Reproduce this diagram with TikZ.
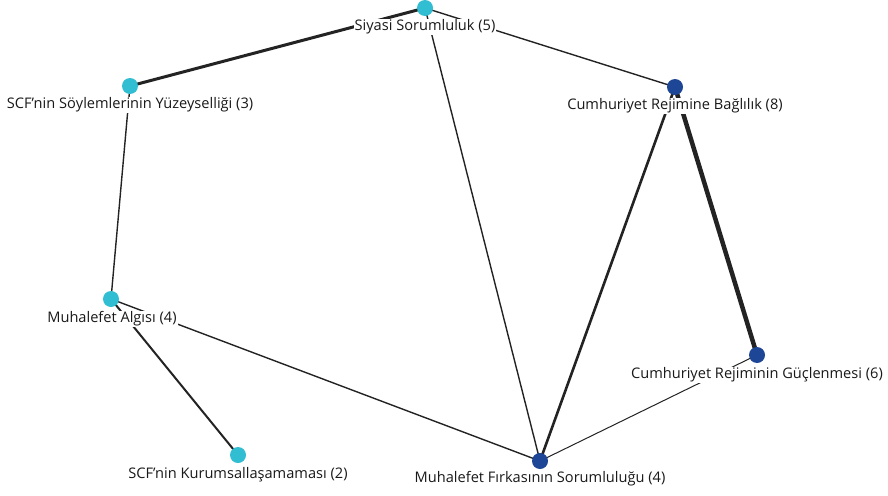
\documentclass[tikz,border=0pt]{standalone}
\usepackage{fontspec}
\setmainfont{Open Sans}
\usetikzlibrary{backgrounds}
\definecolor{cyandot}{RGB}{50,190,210}
\definecolor{bluedot}{RGB}{30,70,150}
\definecolor{edgecol}{RGB}{35,35,35}
\definecolor{txtcol}{RGB}{25,25,25}
\newcommand{\apo}{\char"0027\relax}
\begin{document}
\begin{tikzpicture}[x=1pt,y=-1pt,
  dotc/.style={circle,fill=cyandot,inner sep=0pt,minimum size=16pt},
  dotb/.style={circle,fill=bluedot,inner sep=0pt,minimum size=16pt},
  lab/.style={fill=white,inner sep=1pt,text=txtcol,font=\fontsize{14.6}{16}\selectfont},
  edge/.style={draw=edgecol,line cap=round}]
\useasboundingbox (0,0) rectangle (888,495);
\node[dotc] (siy) at (425,8) {};
\node[dotc] (soy) at (130,86) {};
\node[dotb] (bag) at (675,87) {};
\node[dotc] (alg) at (111,299) {};
\node[dotb] (guc) at (757,355) {};
\node[dotc] (kur) at (238,455) {};
\node[dotb] (fir) at (540,461) {};
\node[lab] (lsiy) at (425,27) {Siyasi Sorumluluk (5)};
\node[lab] (lsoy) at (130,105) {SCF\apo nin Söylemlerinin Yüzeyselliği (3)};
\node[lab] (lbag) at (675,106) {Cumhuriyet Rejimine Bağlılık (8)};
\node[lab] (lalg) at (112,319) {Muhalefet Algısı (4)};
\node[lab] (lguc) at (757,375) {Cumhuriyet Rejiminin Güçlenmesi (6)};
\node[lab] (lkur) at (238,475) {SCF\apo nin Kurumsallaşamaması (2)};
\node[lab] (lfir) at (540,479) {Muhalefet Fırkasının Sorumluluğu (4)};
\begin{scope}[on background layer]
\draw[edge,line width=3pt] (siy.center) -- (soy.center);
\draw[edge,line width=1.4pt] (siy.center) -- (bag.center);
\draw[edge,line width=1.4pt] (siy.center) -- (fir.center);
\draw[edge,line width=1.4pt] (soy.center) -- (alg.center);
\draw[edge,line width=2pt] (alg.center) -- (kur.center);
\draw[edge,line width=1.4pt] (alg.center) -- (fir.center);
\draw[edge,line width=2.6pt] (bag.center) -- (fir.center);
\draw[edge,line width=4.5pt] (bag.center) -- (guc.center);
\draw[edge,line width=1pt] (guc.center) -- (fir.center);
\end{scope}
\end{tikzpicture}
\end{document}
